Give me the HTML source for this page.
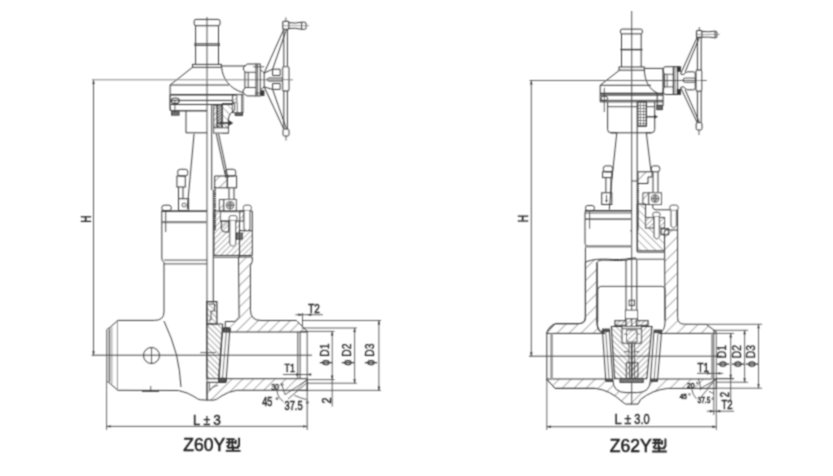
<!DOCTYPE html>
<html><head><meta charset="utf-8"><style>
html,body{margin:0;padding:0;background:#fff;}
svg{display:block;font-family:"Liberation Sans",sans-serif;}
</style></head><body>
<svg width="833" height="476" viewBox="0 0 833 476">
<rect width="833" height="476" fill="#fff"/>
<defs>
<pattern id="h" width="7.6" height="7.6" patternUnits="userSpaceOnUse" patternTransform="rotate(45) translate(-1.6,0)"><line x1="0" y1="0" x2="0" y2="7.6" stroke="#555" stroke-width="1"/></pattern>
<pattern id="h2" width="7.6" height="7.6" patternUnits="userSpaceOnUse" patternTransform="rotate(-45)"><line x1="0" y1="0" x2="0" y2="7.6" stroke="#555" stroke-width="1"/></pattern>
<pattern id="x" width="3" height="3" patternUnits="userSpaceOnUse"><rect width="3" height="3" fill="#bbb"/><path d="M0,3 L3,0" stroke="#444" stroke-width="0.8"/></pattern>
<pattern id="hr" width="8.5" height="8.5" patternUnits="userSpaceOnUse" patternTransform="rotate(45)"><line x1="0" y1="0" x2="0" y2="8.5" stroke="#555" stroke-width="1"/></pattern>
<pattern id="hg" width="4" height="4" patternUnits="userSpaceOnUse" patternTransform="rotate(45)"><line x1="0" y1="0" x2="0" y2="4" stroke="#444" stroke-width="0.9"/></pattern>
<pattern id="h2g" width="4" height="4" patternUnits="userSpaceOnUse" patternTransform="rotate(-45)"><line x1="0" y1="0" x2="0" y2="4" stroke="#444" stroke-width="0.9"/></pattern>
<pattern id="xr" width="2.5" height="2.5" patternUnits="userSpaceOnUse"><rect width="2.5" height="2.5" fill="#999"/><path d="M0,0 L2.5,2.5" stroke="#333" stroke-width="0.8"/></pattern>
<pattern id="hb" width="4" height="4" patternUnits="userSpaceOnUse" patternTransform="rotate(45)"><line x1="0" y1="0" x2="0" y2="4" stroke="#555" stroke-width="0.9"/></pattern>
<pattern id="h2b" width="5.4" height="5.4" patternUnits="userSpaceOnUse" patternTransform="rotate(-45)"><line x1="0" y1="0" x2="0" y2="5.4" stroke="#555" stroke-width="0.9"/></pattern>
<pattern id="hrb" width="3.5" height="3.5" patternUnits="userSpaceOnUse" patternTransform="rotate(45)"><rect width="3.5" height="3.5" fill="#fff"/><line x1="0" y1="0" x2="0" y2="3.5" stroke="#444" stroke-width="0.9"/></pattern>
<filter id="soft" x="0" y="0" width="833" height="476" filterUnits="userSpaceOnUse"><feConvolveMatrix order="3" kernelMatrix="1 2 1 2 6 2 1 2 1" divisor="18" edgeMode="none" preserveAlpha="false"/></filter>
<pattern id="sq" width="3" height="3" patternUnits="userSpaceOnUse"><rect width="3" height="3" fill="#fff"/><path d="M0,0.5 L3,0.5 M1.5,0 L1.5,3" stroke="#555" stroke-width="0.8"/></pattern>
</defs><g filter="url(#soft)"><line x1="207" y1="17" x2="207" y2="400.1" stroke="#555" stroke-width="1" />
<rect x="194.2" y="19.4" width="25.8" height="6.3" rx="1.8" stroke="#3a3a3a" stroke-width="1" fill="none" />
<line x1="195.6" y1="25.7" x2="195.6" y2="64.4" stroke="#3a3a3a" stroke-width="1" />
<line x1="218.5" y1="25.7" x2="218.5" y2="64.4" stroke="#3a3a3a" stroke-width="1" />
<line x1="194.2" y1="43.8" x2="220" y2="43.8" stroke="#3a3a3a" stroke-width="1" />
<line x1="194.2" y1="45.3" x2="220" y2="45.3" stroke="#3a3a3a" stroke-width="1" />
<rect x="192.5" y="64.4" width="28.9" height="2.9" rx="0" stroke="#3a3a3a" stroke-width="1" fill="none" />
<path d="M192.5,67.3 L170.1,85 L170.1,94.8" stroke="#3a3a3a" stroke-width="1" fill="none" />
<path d="M221.6,67.3 C222.5,78 229,88.5 243.3,92.8" stroke="#3a3a3a" stroke-width="1" fill="none" />
<line x1="170.1" y1="85" x2="229" y2="85" stroke="#3a3a3a" stroke-width="1" />
<line x1="170.1" y1="94.8" x2="243" y2="94.8" stroke="#3a3a3a" stroke-width="1.4" />
<line x1="170.1" y1="100.4" x2="232.6" y2="100.4" stroke="#3a3a3a" stroke-width="1" />
<line x1="170.1" y1="104.5" x2="232.6" y2="104.5" stroke="#3a3a3a" stroke-width="1" />
<line x1="221.3" y1="66" x2="245.4" y2="66" stroke="#3a3a3a" stroke-width="1" />
<path d="M170.1,94.8 L170.1,108.7 Q170.1,110.7 172,110.7 L207,110.7" stroke="#555" stroke-width="1.5" fill="none" />
<ellipse cx="175.3" cy="100.8" rx="4" ry="2.8" fill="none" stroke="#3a3a3a" stroke-width="1.1"/>
<line x1="174.9" y1="100" x2="174.9" y2="112" stroke="#3a3a3a" stroke-width="0.8" />
<rect x="171.6" y="111.8" width="7.4" height="3.3" rx="0" stroke="#3a3a3a" stroke-width="1" fill="#777" />
<rect x="232.6" y="94.7" width="10.4" height="17.8" rx="0" stroke="#3a3a3a" stroke-width="1" fill="#fff" />
<path d="M232.6,95.3 L236.8,95.3 L236.8,102.6 L232.6,102.6 Z" fill="url(#hb)" stroke="#3a3a3a" stroke-width="0.8"/>
<line x1="237.3" y1="102.6" x2="237.3" y2="112.5" stroke="#3a3a3a" stroke-width="0.8" />
<line x1="241.5" y1="94.7" x2="241.5" y2="112.5" stroke="#3a3a3a" stroke-width="0.8" />
<rect x="235.2" y="112.5" width="7.3" height="2.9" rx="0" stroke="#3a3a3a" stroke-width="1" fill="#666" />
<path d="M186,110.7 L186,132.8 L207,132.8" stroke="#3a3a3a" stroke-width="1" fill="none" />
<line x1="194.1" y1="133.7" x2="187.2" y2="209" stroke="#3a3a3a" stroke-width="1" />
<line x1="216.2" y1="133.5" x2="226" y2="178" stroke="#3a3a3a" stroke-width="1" />
<line x1="218.5" y1="133.5" x2="228" y2="178" stroke="#3a3a3a" stroke-width="1" />
<line x1="211.7" y1="104" x2="211.7" y2="190" stroke="#3a3a3a" stroke-width="1" />
<line x1="213.3" y1="190" x2="213.3" y2="302" stroke="#3a3a3a" stroke-width="1" />
<path d="M222,103.7 L234.7,103.7 L234.7,110.5 Q229,113 228.4,119 L228.4,133 L222,133 Z" fill="url(#h2b)" stroke="#3a3a3a" stroke-width="1"/>
<path d="M213.7,105.2 L217.3,105.2 L217.3,127.3 L213.7,127.3 Z" fill="url(#hb)" stroke="#3a3a3a" stroke-width="0.9"/>
<rect x="217.3" y="104.7" width="4.7" height="24.2" rx="0" stroke="#3a3a3a" stroke-width="1.4" fill="url(#x)" />
<rect x="213.7" y="127.8" width="14.7" height="5.2" rx="0" stroke="#3a3a3a" stroke-width="1" fill="#fff" />
<path d="M218.4,123 L229,123" stroke="#3a3a3a" stroke-width="1.6" fill="none" />
<path d="M228.5,120.6 L232.5,123 L228.5,125.4 Z" stroke="#3a3a3a" stroke-width="1" fill="#333" />
<rect x="177.7" y="169.3" width="10.1" height="6.7" rx="2.5" stroke="#3a3a3a" stroke-width="1" fill="none" />
<rect x="176.9" y="176" width="8.4" height="11" rx="0" stroke="#3a3a3a" stroke-width="1" fill="none" />
<line x1="178.5" y1="187" x2="178.5" y2="198.7" stroke="#3a3a3a" stroke-width="1" />
<line x1="183" y1="187" x2="183" y2="198.7" stroke="#3a3a3a" stroke-width="1" />
<rect x="178.5" y="198.7" width="10.1" height="11.8" rx="0" stroke="#3a3a3a" stroke-width="1" fill="none" />
<circle cx="184" cy="205" r="2" fill="none" stroke="#3a3a3a" stroke-width="0.8"/>
<rect x="225.6" y="169.3" width="10.1" height="6.7" rx="2.5" stroke="#3a3a3a" stroke-width="1" fill="none" />
<path d="M214.7,176 L227.3,176 L227.3,187.8 L214.7,187.8 Z" fill="url(#h)" stroke="#3a3a3a" stroke-width="1"/>
<rect x="227.3" y="176" width="9.3" height="11.8" rx="0" stroke="#3a3a3a" stroke-width="1" fill="none" />
<line x1="229" y1="188" x2="229" y2="230" stroke="#3a3a3a" stroke-width="1" />
<line x1="234" y1="188" x2="234" y2="230" stroke="#3a3a3a" stroke-width="1" />
<line x1="214.9" y1="187" x2="214.9" y2="230" stroke="#333" stroke-width="2.2" stroke-dasharray="1.3,0.9"/>
<path d="M219.3,199.5 L223.9,199.5 L223.9,211 L219.3,211 Z" fill="url(#h)" stroke="#3a3a3a" stroke-width="0.9"/>
<rect x="223.9" y="199.5" width="12.4" height="11.5" rx="0" stroke="#3a3a3a" stroke-width="1" fill="#fff" />
<circle cx="230.1" cy="205.2" r="3.8" fill="none" stroke="#3a3a3a" stroke-width="1"/><circle cx="230.1" cy="205.2" r="2" fill="none" stroke="#3a3a3a" stroke-width="0.8"/>
<line x1="226" y1="205.2" x2="234.2" y2="205.2" stroke="#3a3a3a" stroke-width="0.7" />
<line x1="230.1" y1="201.1" x2="230.1" y2="209.3" stroke="#3a3a3a" stroke-width="0.7" />
<line x1="161.8" y1="211.2" x2="207" y2="211.2" stroke="#555" stroke-width="1.8" />
<line x1="161.8" y1="222.2" x2="207" y2="222.2" stroke="#888" stroke-width="2.2" />
<line x1="161.8" y1="210.5" x2="161.8" y2="258" stroke="#3a3a3a" stroke-width="1" />
<rect x="161.8" y="205.2" width="9.5" height="5.5" rx="2.5" stroke="#3a3a3a" stroke-width="1" fill="none" />
<line x1="165.7" y1="211" x2="165.7" y2="232" stroke="#3a3a3a" stroke-width="0.9" />
<path d="M213.9,211 L244,211 L244,221 L239.5,221 L239.5,230.6 L252.3,230.6 L252.3,255.5 L213.9,255.5 Z" fill="url(#hb)" stroke="#3a3a3a" stroke-width="1"/>
<line x1="239.5" y1="211" x2="252.3" y2="211" stroke="#3a3a3a" stroke-width="1" />
<line x1="252.3" y1="211" x2="252.3" y2="230.6" stroke="#3a3a3a" stroke-width="1" />
<rect x="220.6" y="211.7" width="18.9" height="9.2" rx="0" stroke="#3a3a3a" stroke-width="1" fill="#fff" />
<path d="M221.3,220.9 L229.1,220.9 L229.1,232 L226,232 Q221.3,232 221.3,228 Z" fill="url(#h)" stroke="#3a3a3a" stroke-width="1"/>
<rect x="229.1" y="215.6" width="7.9" height="5.3" rx="2" stroke="#3a3a3a" stroke-width="1" fill="#fff" />
<path d="M229.8,220.9 L229.8,244 L232.7,246.5 L235.6,244 L235.6,220.9" stroke="#3a3a3a" stroke-width="1" fill="#fff" />
<rect x="236.3" y="233.2" width="5.9" height="5.9" rx="0" stroke="#3a3a3a" stroke-width="1" fill="url(#xr)" />
<rect x="243.3" y="205.2" width="8" height="5.8" rx="2.5" stroke="#3a3a3a" stroke-width="1" fill="#fff" />
<path d="M244,211 L244,229 L247,231 L250,229 L250,211" stroke="#3a3a3a" stroke-width="1" fill="#fff" />
<line x1="239.5" y1="211.7" x2="239.5" y2="257" stroke="#3a3a3a" stroke-width="1" />
<line x1="213.9" y1="257.3" x2="239.5" y2="257.3" stroke="#3a3a3a" stroke-width="0.9" />
<path d="M161.8,258 Q161.8,261 164,262.5 L164,312 Q164,320.4 154.4,320.4 L117.9,320.4" stroke="#3a3a3a" stroke-width="1" fill="none" />
<line x1="164" y1="260.1" x2="207" y2="260.1" stroke="#3a3a3a" stroke-width="0.9" />
<line x1="164" y1="263.9" x2="207" y2="263.9" stroke="#3a3a3a" stroke-width="0.9" />
<path d="M164,321.1 Q172,338 176.5,355 Q180,370 181,387" stroke="#3a3a3a" stroke-width="1" fill="none" />
<path d="M238.5,257 L252.3,257 L252.3,261.4 L250.4,265.8 L250.4,309.6 Q250.4,320.5 261,320.5 L296.3,320.5 L302.5,326.5 L307.2,331.4 L307.2,332 L229.9,332 L229.9,328.2 L225.3,328.2 L225.3,321.5 L235,321.5 L239.1,317.3 Z" fill="url(#h)" stroke="#3a3a3a" stroke-width="1"/>
<line x1="297.8" y1="332" x2="297.8" y2="378.7" stroke="#3a3a3a" stroke-width="0.9" />
<line x1="300.1" y1="332" x2="300.1" y2="378.7" stroke="#3a3a3a" stroke-width="0.9" />
<line x1="307.2" y1="331.4" x2="307.2" y2="430" stroke="#444" stroke-width="0.9" />
<path d="M207,382.3 L218.8,382.3 L226,378.7 L307.2,378.7 L307.2,390.3 L236.8,390.3 Q228,391.5 221,396.3 Q217,399.6 214,400.1 L207,400.1 Z" fill="url(#h)" stroke="#3a3a3a" stroke-width="1"/>
<path d="M209.4,382.3 L209.4,390.3 Q212,386 218,385.2" stroke="#3a3a3a" stroke-width="0.8" fill="none" />
<path d="M206.8,324 L222.7,324 L218.5,378.7 L206.8,378.7 Z" fill="url(#h2g)" stroke="#3a3a3a" stroke-width="1"/>
<path d="M206.8,301.7 L216.9,301.7 L216.9,324 L206.8,324 Z" fill="url(#h2g)" stroke="#3a3a3a" stroke-width="1.2"/>
<path d="M209,304 L214.5,304 L214.5,311 L211,311 L211,320 L209,320" stroke="#3a3a3a" stroke-width="0.9" fill="none" />
<path d="M222.7,328.2 L229.9,328.2 L226,382.3 L218.8,382.3 Z" stroke="#3a3a3a" stroke-width="1" fill="none" />
<line x1="226.3" y1="332" x2="222.5" y2="378.5" stroke="#3a3a3a" stroke-width="0.7" />
<rect x="222.7" y="328.2" width="7.2" height="3.8" rx="1" stroke="#3a3a3a" stroke-width="1.2" fill="#555" />
<rect x="218.8" y="378.4" width="7.2" height="3.9" rx="1" stroke="#3a3a3a" stroke-width="1.2" fill="#555" />
<path d="M117.9,320.4 L110.4,327 L106.6,329.8 L106.6,380.8 L110.4,383.8 L117.9,390.3 L178.5,390.5 Q188,392.5 194,396.5 Q198,399.6 200.5,399.8 L207,400.1" stroke="#3a3a3a" stroke-width="1" fill="none" />
<rect x="106.6" y="329.8" width="3" height="51" fill="#c4c4c4"/>
<line x1="109.6" y1="328.5" x2="109.6" y2="382" stroke="#3a3a3a" stroke-width="1" />
<line x1="111.8" y1="326.8" x2="111.8" y2="384" stroke="#777" stroke-width="0.8" />
<line x1="117.4" y1="320.4" x2="117.4" y2="390.3" stroke="#777" stroke-width="0.8" />
<line x1="142" y1="391" x2="159" y2="391" stroke="#3a3a3a" stroke-width="1.6" />
<line x1="150.7" y1="386" x2="150.7" y2="392" stroke="#3a3a3a" stroke-width="0.8" />
<circle cx="151.5" cy="355.5" r="8" fill="none" stroke="#3a3a3a" stroke-width="1"/>
<line x1="151.5" y1="347" x2="151.5" y2="364" stroke="#3a3a3a" stroke-width="0.8" />
<line x1="91.6" y1="355.2" x2="312" y2="355.2" stroke="#444" stroke-width="1" />
<line x1="200.3" y1="352.6" x2="216" y2="352.6" stroke="#3a3a3a" stroke-width="0.8" />
<line x1="92" y1="79.8" x2="293" y2="79.8" stroke="#888" stroke-width="1" />
<line x1="93.5" y1="79.9" x2="93.5" y2="355.2" stroke="#555" stroke-width="1" />
<polygon points="93.5,79.9 92.3,83.9 94.7,83.9" fill="#333"/>
<polygon points="93.5,355.2 92.3,351.2 94.7,351.2" fill="#333"/>
<text transform="translate(90.5,222.7) rotate(-90) scale(0.71,1)" font-size="14.5" font-weight="normal" text-anchor="start" fill="#222" stroke="#222" stroke-width="0.4" >H</text>
<line x1="106.6" y1="381" x2="106.6" y2="430" stroke="#444" stroke-width="0.8" />
<line x1="106.6" y1="426.4" x2="307.2" y2="426.4" stroke="#444" stroke-width="0.9" />
<polygon points="106.6,426.4 110.6,425.2 110.6,427.59999999999997" fill="#333"/>
<polygon points="307.2,426.4 303.2,425.2 303.2,427.59999999999997" fill="#333"/>
<text transform="translate(193.0,424.9) scale(0.9,1)" font-size="14.4" font-weight="normal" text-anchor="start" fill="#222" stroke="#222" stroke-width="0.4" >L</text>
<text transform="translate(203.5,424.9) scale(0.85,1)" font-size="14.4" font-weight="normal" text-anchor="start" fill="#222" stroke="#222" stroke-width="0.35" >±</text>
<text transform="translate(213.2,424.9) scale(0.95,1)" font-size="14.4" font-weight="normal" text-anchor="start" fill="#222" stroke="#222" stroke-width="0.4" >3</text>
<text transform="translate(183.3,450.7)" font-size="17.5" font-weight="normal" text-anchor="start" fill="#222" stroke="#222" stroke-width="0.55" >Z60Y</text>
<path transform="translate(225.8,437.8) scale(1.0)" d="M0.6,1.35 L8.8,1.35 M0.2,4.5 L9.2,4.5 M3.35,1.2 L3.35,6.6 Q3.2,8 0.8,8.9 M6.5,1.2 L6.5,8.7 M9.9,1.9 L9.9,6.4 M13.3,0 L13.3,7.6 Q13.3,8.7 11.2,8.7 M1.7,9.95 L13,9.95 M7.1,7.7 L7.1,13 M0,13.1 L14.7,13.1" stroke="#222" stroke-width="1.85" fill="none"/>
<path d="M256,64 L247.2,64 L243.5,67.2 L243.5,70 Q244.9,70.5 244.9,71.9 L244.9,87.5 Q244.9,89.5 243.1,89.9 L243.1,93.1 L247.2,95.9 L256,95.9" stroke="#3a3a3a" stroke-width="1" fill="none" />
<line x1="248.2" y1="72.3" x2="248.2" y2="87.5" stroke="#3a3a3a" stroke-width="0.9" />
<line x1="244.9" y1="72.3" x2="256" y2="72.3" stroke="#3a3a3a" stroke-width="0.9" />
<line x1="244.9" y1="87.5" x2="256" y2="87.5" stroke="#3a3a3a" stroke-width="0.9" />
<rect x="256" y="64" width="4.2" height="31.9" rx="0" stroke="#3a3a3a" stroke-width="1" fill="none" />
<line x1="257.4" y1="64" x2="257.4" y2="95.9" stroke="#3a3a3a" stroke-width="0.8" />
<line x1="253.2" y1="66.8" x2="264.3" y2="66.8" stroke="#3a3a3a" stroke-width="0.8" />
<line x1="255" y1="93.1" x2="261" y2="93.1" stroke="#3a3a3a" stroke-width="0.8" />
<rect x="261" y="90.8" width="2.9" height="4.6" rx="0" stroke="#3a3a3a" stroke-width="1" fill="#333" />
<path d="M260.7,70 Q262.5,71 264.2,73 L272.6,69.2 L280.2,69.2 L280.2,75.5 L272.6,75.5 L272.6,69.2 M260.7,89.4 Q262.5,88.5 264.2,86.9 L272.6,89.4 L280.2,89.4 L280.2,83.5 L272.6,83.5 L272.6,89.4 M264.2,73 L264.2,86.9" stroke="#3a3a3a" stroke-width="1" fill="none" />
<path d="M282.7,78 L268.5,78 L266.8,79.5 L268.5,81 L282.7,81" stroke="#3a3a3a" stroke-width="1" fill="none" />
<line x1="283.8" y1="29.3" x2="283.8" y2="129" stroke="#3a3a3a" stroke-width="1" />
<line x1="287.4" y1="29.3" x2="287.4" y2="129" stroke="#3a3a3a" stroke-width="1" />
<rect x="282.7" y="66.7" width="6.2" height="24.2" rx="1.2" stroke="#3a3a3a" stroke-width="1.1" fill="#fff" />
<line x1="282.7" y1="79.6" x2="288.9" y2="79.6" stroke="#666" stroke-width="0.8" />
<rect x="282.8" y="21.3" width="6" height="8" rx="1" stroke="#3a3a3a" stroke-width="1.1" fill="none" />
<rect x="283" y="129" width="6" height="7" rx="1.5" stroke="#3a3a3a" stroke-width="1" fill="none" />
<line x1="285.8" y1="17.5" x2="285.8" y2="21.3" stroke="#3a3a3a" stroke-width="0.8" />
<line x1="286" y1="136" x2="286" y2="140.5" stroke="#3a3a3a" stroke-width="0.8" />
<path d="M288.8,22.6 Q295,23.8 301.6,22.2 L304.8,22.2 Q306.1,22.2 306.1,24 L306.1,27.5 Q306.1,29.3 304.8,29.3 L301.6,29.3 Q295,27.6 288.8,28.5" stroke="#3a3a3a" stroke-width="1" fill="none" />
<line x1="301.6" y1="22.2" x2="301.6" y2="29.3" stroke="#3a3a3a" stroke-width="1" />
<line x1="282.8" y1="25.7" x2="309.1" y2="25.7" stroke="#777" stroke-width="0.7" />
<line x1="283.8" y1="29.3" x2="264.2" y2="73" stroke="#3a3a3a" stroke-width="1" />
<line x1="286.5" y1="29.3" x2="272.6" y2="69.2" stroke="#3a3a3a" stroke-width="1" />
<line x1="264.2" y1="86.9" x2="283.8" y2="129" stroke="#3a3a3a" stroke-width="1" />
<line x1="272.6" y1="89.4" x2="286.5" y2="129" stroke="#3a3a3a" stroke-width="1" />
<line x1="302.5" y1="313" x2="302.5" y2="326.5" stroke="#3a3a3a" stroke-width="0.8" />
<line x1="295.4" y1="314.7" x2="322.8" y2="314.7" stroke="#3a3a3a" stroke-width="0.8" />
<polygon points="302.5,314.7 298.5,313.5 298.5,315.9" fill="#333"/>
<polygon points="307.2,314.7 311.2,313.5 311.2,315.9" fill="#333"/>
<text transform="translate(308.2,313) scale(0.77,1)" font-size="13" font-weight="normal" text-anchor="start" fill="#222" stroke="#222" stroke-width="0.45" >T2</text>
<line x1="302" y1="320.5" x2="381" y2="320.5" stroke="#3a3a3a" stroke-width="0.8" />
<line x1="301.5" y1="328" x2="357" y2="328" stroke="#3a3a3a" stroke-width="0.8" />
<line x1="300" y1="331.4" x2="334.5" y2="331.4" stroke="#3a3a3a" stroke-width="0.8" />
<line x1="307" y1="379.6" x2="334.5" y2="379.6" stroke="#3a3a3a" stroke-width="0.8" />
<line x1="307" y1="383.2" x2="357" y2="383.2" stroke="#3a3a3a" stroke-width="0.8" />
<line x1="300" y1="390.4" x2="381" y2="390.4" stroke="#3a3a3a" stroke-width="0.8" />
<line x1="332.2" y1="331.4" x2="332.2" y2="406.5" stroke="#3a3a3a" stroke-width="0.8" />
<line x1="354.6" y1="328" x2="354.6" y2="383.2" stroke="#3a3a3a" stroke-width="0.8" />
<line x1="378.9" y1="320.5" x2="378.9" y2="390.4" stroke="#3a3a3a" stroke-width="0.8" />
<polygon points="332.2,331.4 331.0,335.4 333.4,335.4" fill="#333"/>
<polygon points="332.2,379.6 331.0,375.6 333.4,375.6" fill="#333"/>
<polygon points="354.6,328 353.40000000000003,332 355.8,332" fill="#333"/>
<polygon points="354.6,383.2 353.40000000000003,379.2 355.8,379.2" fill="#333"/>
<polygon points="378.9,320.5 377.7,324.5 380.09999999999997,324.5" fill="#333"/>
<polygon points="378.9,390.4 377.7,386.4 380.09999999999997,386.4" fill="#333"/>
<text transform="translate(328.7,365.5) rotate(-90) scale(0.8,1)" font-size="13" font-weight="normal" text-anchor="start" fill="#222" stroke="#222" stroke-width="0.3" >ϕ D1</text>
<text transform="translate(351.3,365.5) rotate(-90) scale(0.8,1)" font-size="13" font-weight="normal" text-anchor="start" fill="#222" stroke="#222" stroke-width="0.3" >ϕ D2</text>
<text transform="translate(374.4,365.5) rotate(-90) scale(0.8,1)" font-size="13" font-weight="normal" text-anchor="start" fill="#222" stroke="#222" stroke-width="0.3" >ϕ D3</text>
<text transform="translate(284.5,372.2) scale(0.78,1)" font-size="11.5" font-weight="normal" text-anchor="start" fill="#222" stroke="#222" stroke-width="0.45" >T1</text>
<line x1="282.9" y1="374.5" x2="310.8" y2="374.5" stroke="#3a3a3a" stroke-width="0.8" />
<polygon points="300.1,374.5 296.1,373.3 296.1,375.7" fill="#333"/>
<polygon points="307.2,374.5 311.2,373.3 311.2,375.7" fill="#333"/>
<text transform="translate(330.9,403.4) rotate(-90) scale(0.8,1)" font-size="13.5" font-weight="normal" text-anchor="start" fill="#222" stroke="#222" stroke-width="0.45" >2</text>
<text transform="translate(262.2,406.1) scale(0.73,1)" font-size="12.5" font-weight="normal" text-anchor="start" fill="#222" stroke="#222" stroke-width="0.45" >45</text>
<circle cx="277.1" cy="398.6" r="1" fill="none" stroke="#333" stroke-width="0.8"/>
<text transform="translate(284.5,409.7) scale(0.74,1)" font-size="12.6" font-weight="normal" text-anchor="start" fill="#222" stroke="#222" stroke-width="0.45" >37.5</text>
<circle cx="307.4" cy="402.5" r="1" fill="none" stroke="#333" stroke-width="0.8"/>
<text transform="translate(271.2,389.5) scale(0.85,1)" font-size="8.3" font-weight="normal" text-anchor="start" fill="#222" stroke="#222" stroke-width="0.3" >30</text>
<circle cx="282.2" cy="384.5" r="0.9" fill="none" stroke="#333" stroke-width="0.7"/>
<path d="M281.5,383.8 L285,394.6 L306.7,380.2 M288,399 L306.7,383 M277,391 Q278,398 283.6,401.8 M294.4,395.3 Q300,398 306.7,399.6" stroke="#3a3a3a" stroke-width="0.8" fill="none" />
<line x1="631.7" y1="11" x2="631.7" y2="404.5" stroke="#555" stroke-width="1" />
<rect x="620.4" y="29.1" width="22" height="4.8" rx="1.8" stroke="#3a3a3a" stroke-width="1" fill="none" />
<line x1="621.5" y1="33.9" x2="621.5" y2="67" stroke="#3a3a3a" stroke-width="1" />
<line x1="641.2" y1="33.9" x2="641.2" y2="67" stroke="#3a3a3a" stroke-width="1" />
<line x1="620.4" y1="49.6" x2="642.4" y2="49.6" stroke="#3a3a3a" stroke-width="1.4" />
<rect x="619" y="67" width="25.3" height="3.2" rx="0" stroke="#3a3a3a" stroke-width="1" fill="none" />
<path d="M619.4,70.2 L600.2,85.3 L600.2,93.7" stroke="#3a3a3a" stroke-width="1" fill="none" />
<path d="M644.3,70.2 C645,80 648,88.5 657.2,93" stroke="#3a3a3a" stroke-width="1" fill="none" />
<line x1="600.2" y1="85.3" x2="651" y2="85.3" stroke="#3a3a3a" stroke-width="1" />
<line x1="644.3" y1="68.4" x2="663" y2="68.4" stroke="#3a3a3a" stroke-width="1" />
<line x1="663" y1="68.4" x2="663" y2="93.7" stroke="#3a3a3a" stroke-width="1" />
<line x1="600.2" y1="93.7" x2="663" y2="93.7" stroke="#3a3a3a" stroke-width="1.8" />
<line x1="600.2" y1="95.3" x2="663" y2="95.3" stroke="#3a3a3a" stroke-width="0.9" />
<line x1="600.2" y1="100.4" x2="663" y2="100.4" stroke="#3a3a3a" stroke-width="0.9" />
<line x1="600.2" y1="101.9" x2="663" y2="101.9" stroke="#3a3a3a" stroke-width="1" />
<line x1="600.2" y1="93.7" x2="600.2" y2="101.9" stroke="#3a3a3a" stroke-width="1" />
<ellipse cx="604.3" cy="98.4" rx="3.4" ry="2.4" fill="none" stroke="#3a3a3a" stroke-width="1"/>
<line x1="604.3" y1="87.8" x2="604.3" y2="112" stroke="#3a3a3a" stroke-width="0.8" />
<rect x="657.2" y="93.7" width="5.9" height="11.7" rx="0" stroke="#3a3a3a" stroke-width="1" fill="none" />
<rect x="656.8" y="105.4" width="5.5" height="4.2" rx="0" stroke="#3a3a3a" stroke-width="1" fill="#666" />
<path d="M607.6,101.9 L607.6,129.5 Q607.6,132.8 611,132.8 L616.8,132.8 L611.8,180 L609.3,209.6" stroke="#3a3a3a" stroke-width="1" fill="none" />
<path d="M654.7,101.9 L654.7,129.5 Q654.7,132.8 651.3,132.8 L646.3,132.8 L650.5,167.2 L651.3,171.8" stroke="#3a3a3a" stroke-width="1" fill="none" />
<line x1="607.6" y1="106.7" x2="654.7" y2="106.7" stroke="#3a3a3a" stroke-width="0.9" />
<line x1="611" y1="132.8" x2="651.3" y2="132.8" stroke="#3a3a3a" stroke-width="1" />
<line x1="637.2" y1="101.9" x2="637.2" y2="252" stroke="#3a3a3a" stroke-width="1" />
<line x1="636.8" y1="259" x2="636.8" y2="310" stroke="#3a3a3a" stroke-width="1" />
<line x1="631.7" y1="181" x2="637.2" y2="181" stroke="#3a3a3a" stroke-width="0.9" />
<rect x="637.9" y="102" width="8.4" height="24" rx="0" stroke="#3a3a3a" stroke-width="1.2" fill="url(#sq)" />
<line x1="646.3" y1="102" x2="646.3" y2="126" stroke="#3a3a3a" stroke-width="1" />
<line x1="637.9" y1="126" x2="646.3" y2="126" stroke="#3a3a3a" stroke-width="1" />
<path d="M646.3,116.8 L655,116.8" stroke="#3a3a3a" stroke-width="1.3" fill="none" />
<polygon points="658,116.8 654,114.8 654,118.8" fill="#333"/>
<rect x="603.4" y="165.9" width="9.2" height="5.9" rx="2.3" stroke="#3a3a3a" stroke-width="1" fill="none" />
<rect x="602.6" y="171.8" width="9.2" height="5.8" rx="0" stroke="#3a3a3a" stroke-width="1" fill="none" />
<line x1="605.9" y1="177.6" x2="605.9" y2="192.8" stroke="#3a3a3a" stroke-width="1" />
<line x1="611" y1="177.6" x2="611" y2="192.8" stroke="#3a3a3a" stroke-width="1" />
<rect x="601.7" y="192.8" width="10.1" height="11.7" rx="0" stroke="#3a3a3a" stroke-width="1" fill="none" />
<line x1="606.5" y1="195" x2="606.5" y2="202" stroke="#3a3a3a" stroke-width="0.8" />
<polygon points="606.5,203 605.3,200 607.7,200" fill="#444"/>
<rect x="651.3" y="165.9" width="8.4" height="5.9" rx="2.3" stroke="#3a3a3a" stroke-width="1" fill="none" />
<line x1="653" y1="171.8" x2="653" y2="192.8" stroke="#3a3a3a" stroke-width="1" />
<line x1="658" y1="171.8" x2="658" y2="192.8" stroke="#3a3a3a" stroke-width="1" />
<path d="M637.9,171.8 L652.1,171.8 L652.1,177 L648,177 L648,183.5 L637.9,183.5 Z" fill="url(#hr)" stroke="#3a3a3a" stroke-width="1"/>
<path d="M642.9,192.8 L648.8,192.8 L648.8,204.5 L642.9,204.5 Z" fill="url(#hr)" stroke="#3a3a3a" stroke-width="0.9"/>
<rect x="648.8" y="192.8" width="12.6" height="11.7" rx="0" stroke="#3a3a3a" stroke-width="1" fill="#fff" />
<circle cx="655.1" cy="198.6" r="3.8" fill="none" stroke="#3a3a3a" stroke-width="1"/><circle cx="655.1" cy="198.6" r="2" fill="none" stroke="#3a3a3a" stroke-width="0.8"/>
<line x1="651" y1="198.6" x2="659.2" y2="198.6" stroke="#3a3a3a" stroke-width="0.7" />
<line x1="655.1" y1="194.5" x2="655.1" y2="202.7" stroke="#3a3a3a" stroke-width="0.7" />
<line x1="638" y1="183.5" x2="638" y2="230.6" stroke="#333" stroke-width="1.8" stroke-dasharray="1.3,0.9"/>
<line x1="585" y1="210.7" x2="631.7" y2="210.7" stroke="#3a3a3a" stroke-width="1.5" />
<line x1="585" y1="213" x2="631.7" y2="213" stroke="#3a3a3a" stroke-width="0.8" />
<line x1="585" y1="219.1" x2="631.7" y2="219.1" stroke="#777" stroke-width="1.8" />
<rect x="585.5" y="205.5" width="8.9" height="5.2" rx="2.3" stroke="#3a3a3a" stroke-width="1" fill="none" />
<line x1="589.6" y1="212.3" x2="589.6" y2="228.7" stroke="#3a3a3a" stroke-width="0.8" />
<path d="M586.5,210.7 Q585,210.7 585,212.5 L585,243.5 Q585,245.1 586.5,245.1" stroke="#3a3a3a" stroke-width="1" fill="none" />
<line x1="585" y1="246.3" x2="631.7" y2="246.3" stroke="#888" stroke-width="2.2" />
<polygon points="630.2,230.5 631.7,229.5 631.7,232.5" fill="#444"/>
<path d="M637.3,204 L645.6,204 L645.6,217.6 L664.5,217.6 L664.5,250.8 L637.3,250.8 Z" fill="url(#h2b)" stroke="#3a3a3a" stroke-width="1"/>
<rect x="645.6" y="217.6" width="8.5" height="10.4" rx="0" stroke="#3a3a3a" stroke-width="1" fill="url(#hrb)" />
<rect x="659.3" y="217.6" width="5.2" height="10.4" rx="0" stroke="#3a3a3a" stroke-width="1" fill="url(#hrb)" />
<path d="M652.8,204 L652.8,207.8 Q653.5,209.8 656,209.8 L677.6,209.8 L677.6,230" stroke="#3a3a3a" stroke-width="1" fill="none" />
<rect x="652.8" y="212.4" width="7.2" height="4.6" rx="2" stroke="#3a3a3a" stroke-width="1" fill="#fff" />
<path d="M654.1,217 L654.1,237 L656.7,239.1 L659.3,237 L659.3,217" stroke="#3a3a3a" stroke-width="1" fill="#fff" />
<rect x="661.3" y="228.7" width="7.2" height="5.8" rx="0" stroke="#3a3a3a" stroke-width="1.2" fill="url(#hrb)" />
<rect x="669.8" y="205.2" width="8.4" height="5.2" rx="2.3" stroke="#3a3a3a" stroke-width="1" fill="#fff" />
<path d="M671,210.4 L671,226 L673.6,228 L676.3,226 L676.3,210.4" stroke="#3a3a3a" stroke-width="1" fill="#fff" />
<line x1="637.3" y1="252.2" x2="664.5" y2="252.2" stroke="#3a3a3a" stroke-width="0.9" />
<line x1="637.3" y1="259.2" x2="664.5" y2="259.2" stroke="#3a3a3a" stroke-width="0.9" />
<path d="M585.4,247.5 L585.4,317.3 Q585.4,323.7 578,323.7 L555.3,323.7 L546.8,332.6 L546.8,379.5 L555.2,388.4 L595.2,388.4" stroke="#3a3a3a" stroke-width="1" fill="none" />
<path d="M585.4,262 C600,256 615,262 631.5,258.2 L636,258 L636,259 L631.5,259 C615,263 600,257 597,262.5 L597,322 Q597,333.4 605,333.4 L546.8,333.4 L546.8,332.6 Q549,326 555.3,323.7 L578,323.7 Q585.4,323.7 585.4,317.3 Z" fill="url(#hr)" stroke="#3a3a3a" stroke-width="1"/>
<path d="M597,262.5 L597,322 Q597,331 604,332.6" stroke="#3a3a3a" stroke-width="1" fill="none" />
<path d="M597.7,322 L597.7,290 Q597.7,286.4 601,286.4 L662,286.4 Q665,286.4 665,290 L665,320" stroke="#3a3a3a" stroke-width="0.9" fill="none" />
<path d="M664.5,230 L677.6,230 L677.6,317.6 Q677.6,324.2 684.6,324.2 L706.2,324.3 L713.8,330 Q716.3,330.5 716.3,333 L716.3,333.4 L659,333.4 Q665,331 665,322 Z" fill="url(#hr)" stroke="#3a3a3a" stroke-width="1"/>
<path d="M546.8,379 L605.8,379 L605.8,380.5 L612.8,380.5 Q613.5,392.6 626,392.6 L637.5,392.6 Q650,392.6 650.4,380.5 L657.5,380.5 L657.5,379 L716.3,379 L716.3,388.4 L667.6,388.4 Q652,390 640.5,399.6 L638.1,404.1 L625.5,404.1 L622,401.6 Q610,390 595.2,388.4 L555.2,388.4 L546.8,379.5 Z" fill="url(#hr)" stroke="#3a3a3a" stroke-width="1"/>
<rect x="550.3" y="333.4" width="2.5" height="45.4" fill="#9a9a9a"/><rect x="711.2" y="333.4" width="2.2" height="45.4" fill="#9a9a9a"/>
<path d="M602.4,330.5 L609.4,330.5 L612.8,380.5 L605.8,380.5 Z" stroke="#3a3a3a" stroke-width="1" fill="none" />
<line x1="605.7" y1="330.5" x2="609.2" y2="380.5" stroke="#3a3a3a" stroke-width="0.7" />
<path d="M654,331.5 L661.6,331.5 L657.5,380.5 L650.4,380.5 Z" stroke="#3a3a3a" stroke-width="1" fill="none" />
<line x1="658.2" y1="331.5" x2="654" y2="380.5" stroke="#3a3a3a" stroke-width="0.7" />
<rect x="602.4" y="329" width="7" height="2.5" rx="0" stroke="#3a3a3a" stroke-width="0.8" fill="#555" />
<rect x="654" y="330" width="7.6" height="2.5" rx="0" stroke="#3a3a3a" stroke-width="0.8" fill="#555" />
<rect x="605.8" y="379" width="7" height="2.5" rx="0" stroke="#3a3a3a" stroke-width="0.8" fill="#555" />
<rect x="650.4" y="379" width="7.1" height="2.5" rx="0" stroke="#3a3a3a" stroke-width="0.8" fill="#555" />
<path d="M611.3,326.5 L631.7,326.5 L631.7,378.75 L614.6,378.75 Z" fill="url(#h2g)" stroke="#3a3a3a" stroke-width="1.1"/>
<path d="M631.7,326.5 L652,326.5 L646.8,378.75 L631.7,378.75 Z" fill="url(#hg)" stroke="#3a3a3a" stroke-width="1.1"/>
<path d="M622,326.5 L622,341 Q622,343.3 624.5,343.3 L639,343.3 Q641.4,343.3 641.4,341 L641.4,326.5" stroke="#3a3a3a" stroke-width="1.1" fill="#fff" />
<path d="M626.5,330 L637,330 L637,342 L626.5,342 Z" fill="url(#hg)" stroke="#3a3a3a" stroke-width="0.9"/>
<line x1="622" y1="328.6" x2="641.4" y2="328.6" stroke="#666" stroke-width="1.4" />
<line x1="624" y1="334" x2="626.5" y2="334" stroke="#3a3a3a" stroke-width="0.8" />
<line x1="637" y1="334" x2="639.5" y2="334" stroke="#3a3a3a" stroke-width="0.8" />
<line x1="629" y1="343.3" x2="629" y2="362.7" stroke="#3a3a3a" stroke-width="0.8" />
<line x1="634.5" y1="343.3" x2="634.5" y2="362.7" stroke="#3a3a3a" stroke-width="0.8" />
<line x1="624" y1="351.7" x2="629" y2="351.7" stroke="#3a3a3a" stroke-width="0.8" />
<line x1="634.5" y1="351.7" x2="639" y2="351.7" stroke="#3a3a3a" stroke-width="0.8" />
<path d="M626.25,362.7 L637.9,362.7 L637.9,378.75 L626.25,378.75 Z" fill="url(#hg)" stroke="#3a3a3a" stroke-width="0.9"/>
<line x1="629.5" y1="362.7" x2="629.5" y2="378.75" stroke="#3a3a3a" stroke-width="0.8" />
<line x1="634.5" y1="362.7" x2="634.5" y2="378.75" stroke="#3a3a3a" stroke-width="0.8" />
<rect x="620" y="378.75" width="23.2" height="3.6" rx="0" stroke="#3a3a3a" stroke-width="1" fill="url(#xr)" />
<rect x="625.5" y="310.2" width="12" height="8.4" rx="0" stroke="#3a3a3a" stroke-width="0.9" fill="#fff" />
<path d="M625.5,318.6 L637.5,318.6 L637.5,326.5 L625.5,326.5 Z" fill="url(#hg)" stroke="#3a3a3a" stroke-width="0.9"/>
<rect x="615" y="320.7" width="11" height="4.7" rx="0" stroke="#3a3a3a" stroke-width="1.2" fill="url(#hrb)" />
<rect x="636.5" y="320.7" width="11.5" height="4.7" rx="0" stroke="#3a3a3a" stroke-width="1.2" fill="url(#hrb)" />
<line x1="626" y1="259" x2="626" y2="310" stroke="#3a3a3a" stroke-width="1" />
<rect x="629.1" y="300.2" width="5.3" height="5.3" rx="0" stroke="#3a3a3a" stroke-width="0.9" fill="none" />
<line x1="529" y1="356.2" x2="722" y2="356.2" stroke="#444" stroke-width="1" />
<line x1="529.5" y1="80.5" x2="706.7" y2="80.5" stroke="#666" stroke-width="1" />
<line x1="531.3" y1="80.5" x2="531.3" y2="356.2" stroke="#555" stroke-width="1" />
<polygon points="531.3,80.5 530.0999999999999,84.5 532.5,84.5" fill="#333"/>
<polygon points="531.3,356.2 530.0999999999999,352.2 532.5,352.2" fill="#333"/>
<text transform="translate(527.7,222.3) rotate(-90) scale(0.71,1)" font-size="14.5" font-weight="normal" text-anchor="start" fill="#222" stroke="#222" stroke-width="0.4" >H</text>
<path d="M663,68.8 Q663.5,66.7 666,66.7 L673.4,66.7 L673.4,94.5 L666,94.5 Q663.5,94.5 663,92 L663.8,87.7 L663.8,73.4 Z" stroke="#3a3a3a" stroke-width="1" fill="none" />
<line x1="664.6" y1="73.4" x2="664.6" y2="87.7" stroke="#3a3a3a" stroke-width="0.8" />
<line x1="667.1" y1="74.3" x2="667.1" y2="86.9" stroke="#3a3a3a" stroke-width="0.8" />
<line x1="664.6" y1="74.3" x2="673.4" y2="74.3" stroke="#3a3a3a" stroke-width="0.8" />
<line x1="664.6" y1="86.9" x2="673.4" y2="86.9" stroke="#3a3a3a" stroke-width="0.8" />
<rect x="673.4" y="66.7" width="4.2" height="27.8" rx="0" stroke="#3a3a3a" stroke-width="1" fill="none" />
<line x1="675.1" y1="66.7" x2="675.1" y2="94.5" stroke="#3a3a3a" stroke-width="0.7" />
<rect x="677.2" y="66.7" width="3.4" height="4.6" rx="0" stroke="#3a3a3a" stroke-width="0.8" fill="#333" />
<rect x="677.2" y="89.5" width="3.4" height="5" rx="0" stroke="#3a3a3a" stroke-width="0.8" fill="#333" />
<path d="M680.6,73.9 L683.5,74.8 Q685,72 687.7,71.8 L693.5,71.8 Q695.3,71.8 695.3,74 L695.3,87.5 Q695.3,89.8 693.5,89.8 L687.7,89.8 Q685,89.5 683.5,86.6 L680.6,87.5" stroke="#3a3a3a" stroke-width="1" fill="none" />
<rect x="683.1" y="78.1" width="13" height="4.2" rx="2" stroke="#3a3a3a" stroke-width="0.9" fill="none" />
<line x1="697.4" y1="37.4" x2="697.4" y2="122.6" stroke="#3a3a3a" stroke-width="1" />
<line x1="701.2" y1="37.4" x2="701.2" y2="122.6" stroke="#3a3a3a" stroke-width="1" />
<rect x="696.1" y="70.1" width="5.5" height="21" rx="1.2" stroke="#3a3a3a" stroke-width="1.1" fill="#fff" />
<line x1="696.1" y1="80.5" x2="701.6" y2="80.5" stroke="#666" stroke-width="0.8" />
<rect x="696.5" y="30.5" width="5.4" height="6.9" rx="1" stroke="#3a3a3a" stroke-width="1.1" fill="none" />
<rect x="696.2" y="122.6" width="5.8" height="7.4" rx="1.5" stroke="#3a3a3a" stroke-width="1" fill="none" />
<line x1="699.3" y1="27" x2="699.3" y2="30.5" stroke="#3a3a3a" stroke-width="0.8" />
<line x1="699" y1="130" x2="699" y2="135" stroke="#3a3a3a" stroke-width="0.8" />
<path d="M701.9,31.4 Q708,32.2 715.1,31.2 L716,31.2 Q717,31.5 717,33 L717,36 Q717,37.6 716,37.8 L715.1,37.8 Q708,36.6 701.9,37.2" stroke="#3a3a3a" stroke-width="1" fill="none" />
<line x1="715.1" y1="31.2" x2="715.1" y2="37.8" stroke="#3a3a3a" stroke-width="1" />
<line x1="696.5" y1="34.4" x2="719.8" y2="34.4" stroke="#777" stroke-width="0.7" />
<line x1="697.2" y1="37.2" x2="680.6" y2="73.9" stroke="#3a3a3a" stroke-width="1" />
<line x1="699.5" y1="37.2" x2="685.2" y2="71.8" stroke="#3a3a3a" stroke-width="1" />
<line x1="680.6" y1="87.5" x2="697.2" y2="122.6" stroke="#3a3a3a" stroke-width="1" />
<line x1="685.2" y1="89.8" x2="699.5" y2="122.6" stroke="#3a3a3a" stroke-width="1" />
<line x1="706.2" y1="324.3" x2="762" y2="324.3" stroke="#3a3a3a" stroke-width="0.8" />
<line x1="713.8" y1="330.3" x2="748" y2="330.3" stroke="#3a3a3a" stroke-width="0.8" />
<line x1="716.3" y1="333.4" x2="734" y2="333.4" stroke="#3a3a3a" stroke-width="0.8" />
<line x1="716.3" y1="378.7" x2="734" y2="378.7" stroke="#3a3a3a" stroke-width="1.1" />
<line x1="716.3" y1="382.2" x2="748" y2="382.2" stroke="#3a3a3a" stroke-width="0.8" />
<line x1="716.3" y1="388.2" x2="762" y2="388.2" stroke="#3a3a3a" stroke-width="0.8" />
<line x1="730.7" y1="333.4" x2="730.7" y2="400" stroke="#3a3a3a" stroke-width="0.8" />
<line x1="744.6" y1="330.3" x2="744.6" y2="382.2" stroke="#3a3a3a" stroke-width="0.8" />
<line x1="758.5" y1="324.3" x2="758.5" y2="388.2" stroke="#3a3a3a" stroke-width="0.8" />
<polygon points="730.7,333.4 729.5,337.4 731.9000000000001,337.4" fill="#333"/>
<polygon points="730.7,378.7 729.5,374.7 731.9000000000001,374.7" fill="#333"/>
<polygon points="744.6,330.3 743.4,334.3 745.8000000000001,334.3" fill="#333"/>
<polygon points="744.6,382.2 743.4,378.2 745.8000000000001,378.2" fill="#333"/>
<polygon points="758.5,324.3 757.3,328.3 759.7,328.3" fill="#333"/>
<polygon points="758.5,388.2 757.3,384.2 759.7,384.2" fill="#333"/>
<text transform="translate(726.2,367) rotate(-90) scale(0.8,1)" font-size="13" font-weight="normal" text-anchor="start" fill="#222" stroke="#222" stroke-width="0.3" >ϕ D1</text>
<text transform="translate(740.5,367) rotate(-90) scale(0.8,1)" font-size="13" font-weight="normal" text-anchor="start" fill="#222" stroke="#222" stroke-width="0.3" >ϕ D2</text>
<text transform="translate(754.5,367) rotate(-90) scale(0.8,1)" font-size="13" font-weight="normal" text-anchor="start" fill="#222" stroke="#222" stroke-width="0.3" >ϕ D3</text>
<text transform="translate(697.5,371.5) scale(0.78,1)" font-size="12.4" font-weight="normal" text-anchor="start" fill="#222" stroke="#222" stroke-width="0.45" >T1</text>
<line x1="697" y1="373.4" x2="723.2" y2="373.4" stroke="#3a3a3a" stroke-width="0.8" />
<polygon points="711.2,373.4 707.2,372.2 707.2,374.59999999999997" fill="#333"/>
<polygon points="716.3,373.4 720.3,372.2 720.3,374.59999999999997" fill="#333"/>
<text transform="translate(729,397.3) rotate(-90) scale(0.8,1)" font-size="12" font-weight="normal" text-anchor="start" fill="#222" stroke="#222" stroke-width="0.45" >2</text>
<text transform="translate(721.5,409.1) scale(0.78,1)" font-size="12.2" font-weight="normal" text-anchor="start" fill="#222" stroke="#222" stroke-width="0.45" >T2</text>
<line x1="706.8" y1="411.2" x2="734.1" y2="411.2" stroke="#3a3a3a" stroke-width="0.8" />
<polygon points="713.8,411.2 709.8,410.0 709.8,412.4" fill="#333"/>
<polygon points="716.3,411.2 720.3,410.0 720.3,412.4" fill="#333"/>
<line x1="716.3" y1="333" x2="716.3" y2="430" stroke="#444" stroke-width="0.8" />
<line x1="713.8" y1="330" x2="713.8" y2="415" stroke="#3a3a3a" stroke-width="0.8" />
<text transform="translate(687,387.6) scale(0.9,1)" font-size="7.7" font-weight="normal" text-anchor="start" fill="#222" stroke="#222" stroke-width="0.45" >20</text>
<text transform="translate(679.7,398.6) scale(0.85,1)" font-size="7.6" font-weight="normal" text-anchor="start" fill="#222" stroke="#222" stroke-width="0.45" >45</text>
<text transform="translate(697.6,402.8) scale(0.78,1)" font-size="8.4" font-weight="normal" text-anchor="start" fill="#222" stroke="#222" stroke-width="0.45" >37.5</text>
<circle cx="697.3" cy="382.9" r="0.8" fill="none" stroke="#333" stroke-width="0.7"/><circle cx="689.4" cy="394.4" r="0.8" fill="none" stroke="#333" stroke-width="0.7"/><circle cx="712.6" cy="398.6" r="0.8" fill="none" stroke="#333" stroke-width="0.7"/>
<path d="M716.3,379.3 L699.9,388.8 M713.4,382.2 L701,397 M698.4,378.7 Q700.5,384 700.5,390.2 M691.5,388.1 Q692.5,395 696.3,398.6 M708.9,391.3 Q711.5,392.8 714.1,393.4" stroke="#3a3a3a" stroke-width="0.8" fill="none" />
<line x1="546.8" y1="380" x2="546.8" y2="430" stroke="#444" stroke-width="0.8" />
<line x1="546.8" y1="426.7" x2="716.3" y2="426.7" stroke="#444" stroke-width="0.9" />
<polygon points="546.8,426.7 550.8,425.5 550.8,427.9" fill="#333"/>
<polygon points="716.3,426.7 712.3,425.5 712.3,427.9" fill="#333"/>
<text transform="translate(614.5,423.5) scale(0.9,1)" font-size="14.4" font-weight="normal" text-anchor="start" fill="#222" stroke="#222" stroke-width="0.4" >L</text>
<text transform="translate(624.4,423.5) scale(0.85,1)" font-size="14.4" font-weight="normal" text-anchor="start" fill="#222" stroke="#222" stroke-width="0.35" >±</text>
<text transform="translate(634.3,423.5) scale(0.77,1)" font-size="14.4" font-weight="normal" text-anchor="start" fill="#222" stroke="#222" stroke-width="0.4" >3.0</text>
<text transform="translate(609.8,451.7)" font-size="17.5" font-weight="normal" text-anchor="start" fill="#222" stroke="#222" stroke-width="0.55" >Z62Y</text>
<path transform="translate(652.1,438.4) scale(1.0)" d="M0.6,1.35 L8.8,1.35 M0.2,4.5 L9.2,4.5 M3.35,1.2 L3.35,6.6 Q3.2,8 0.8,8.9 M6.5,1.2 L6.5,8.7 M9.9,1.9 L9.9,6.4 M13.3,0 L13.3,7.6 Q13.3,8.7 11.2,8.7 M1.7,9.95 L13,9.95 M7.1,7.7 L7.1,13 M0,13.1 L14.7,13.1" stroke="#222" stroke-width="1.85" fill="none"/></g>
</svg></body></html>
